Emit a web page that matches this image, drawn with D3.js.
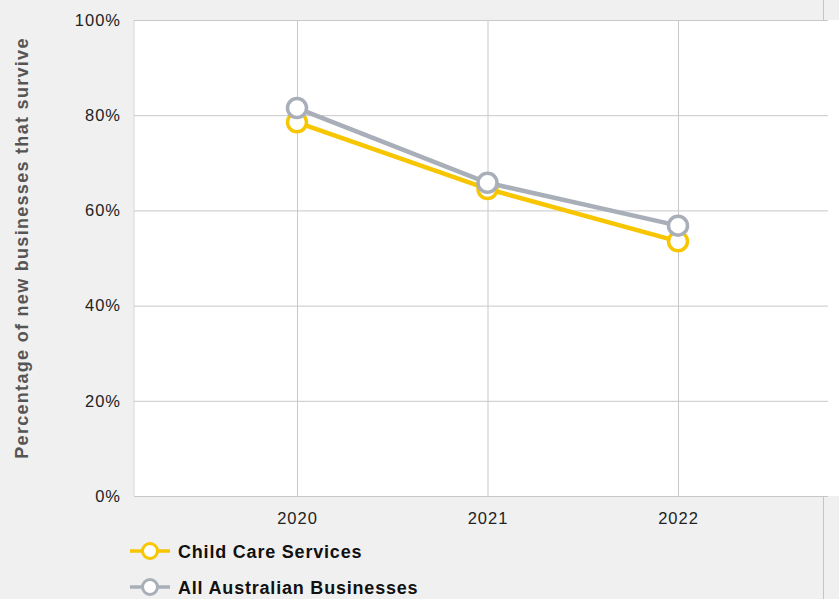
<!DOCTYPE html>
<html>
<head>
<meta charset="utf-8">
<script src="https://cdn.jsdelivr.net/npm/d3@7"></script>
<style>
  html, body { margin: 0; padding: 0; background: #f0f0f0; }
  svg { display: block; font-family: "Liberation Sans", Arial, sans-serif; }
</style>
</head>
<body>
<svg id="chart" width="839" height="599"></svg>
<script>
// Survival rates of new businesses by year
const years = [2020, 2021, 2022];
const childCare = [78.5, 64.5, 53.5];
const allBusinesses = [81.5, 65.8, 56.8];
const yTicks = [0, 20, 40, 60, 80, 100];
const seriesNames = ["Child Care Services", "All Australian Businesses"];
const seriesColors = ["#f7c600", "#a9afb8"];

const svg = d3.select("#chart");
const W = 839, H = 599;
const plot = { left: 134, right: 828, top: 20, bottom: 496 };

svg.append("rect").attr("width", W).attr("height", H).attr("fill", "#f0f0f0");

const x = d3.scaleLinear().domain([2020, 2022]).range([297, 678]);
const y = d3.scaleLinear().domain([0, 100]).range([plot.bottom, plot.top]);

// plot panel
svg.append("rect")
  .attr("x", plot.left).attr("y", plot.top)
  .attr("width", W - plot.left).attr("height", plot.bottom - plot.top)
  .attr("fill", "#ffffff");

// panel edge lines
svg.append("line").attr("x1", 823.5).attr("x2", 823.5).attr("y1", 0).attr("y2", plot.top)
  .attr("stroke", "#c4c4c4");
svg.append("line").attr("x1", 823.5).attr("x2", 823.5).attr("y1", plot.bottom + 1).attr("y2", H)
  .attr("stroke", "#c4c4c4");
svg.append("line").attr("x1", plot.left).attr("x2", plot.left).attr("y1", plot.top).attr("y2", plot.bottom)
  .attr("stroke", "#d6d6d6");

// horizontal gridlines + y tick labels
const yAxis = d3.axisLeft(y).tickValues(yTicks).tickFormat(d => d + "%")
  .tickSize(-(plot.right - plot.left)).tickPadding(13);
const gy = svg.append("g").attr("transform", `translate(${plot.left},0)`).call(yAxis);
gy.select(".domain").remove();
gy.selectAll(".tick line").attr("stroke", "#c8c8c8").attr("stroke-width", 1);
gy.selectAll(".tick text").attr("fill", "#222")
  .style("font-size", "16.5px").style("letter-spacing", "1px");

// vertical gridlines + x tick labels
const xAxis = d3.axisBottom(x).tickValues(years).tickFormat(d3.format("d"))
  .tickSize(-(plot.bottom - plot.top)).tickPadding(16);
const gx = svg.append("g").attr("transform", `translate(0,${plot.bottom})`).call(xAxis);
gx.select(".domain").remove();
gx.selectAll(".tick line").attr("stroke", "#c8c8c8").attr("stroke-width", 1);
gx.selectAll(".tick text").attr("fill", "#222")
  .style("font-size", "16.5px").style("letter-spacing", "1px");

// y axis title
svg.append("text")
  .attr("transform", `translate(28,${248}) rotate(-90)`)
  .attr("text-anchor", "middle")
  .attr("fill", "#555")
  .style("font-size", "18px").style("font-weight", "bold").style("letter-spacing", "1.3px")
  .text("Percentage of new businesses that survive");

// series lines and markers
const series = [childCare, allBusinesses];
const line = d3.line().x((d, i) => x(years[i])).y(d => y(d));
series.forEach((vals, s) => {
  const g = svg.append("g");
  g.append("path").datum(vals)
    .attr("d", line).attr("fill", "none")
    .attr("stroke", seriesColors[s]).attr("stroke-width", 4.5)
    .attr("stroke-linejoin", "round");
  g.selectAll("circle").data(vals).join("circle")
    .attr("cx", (d, i) => x(years[i])).attr("cy", d => y(d)).attr("r", 9.5)
    .attr("fill", "#ffffff").attr("stroke", seriesColors[s]).attr("stroke-width", 3.5);
});

// legend
const legend = svg.append("g");
seriesNames.forEach((name, i) => {
  const ly = 551 + i * 36;
  const lg = legend.append("g");
  lg.append("line").attr("x1", 130).attr("x2", 170).attr("y1", ly).attr("y2", ly)
    .attr("stroke", seriesColors[i]).attr("stroke-width", 3.5);
  lg.append("circle").attr("cx", 150).attr("cy", ly).attr("r", 7.5)
    .attr("fill", "#ffffff").attr("stroke", seriesColors[i]).attr("stroke-width", 3);
  lg.append("text").attr("x", 178).attr("y", ly + 7)
    .attr("fill", "#111").style("font-size", "18px").style("font-weight", "bold")
    .style("letter-spacing", "0.8px")
    .text(name);
});
</script>
</body>
</html>
